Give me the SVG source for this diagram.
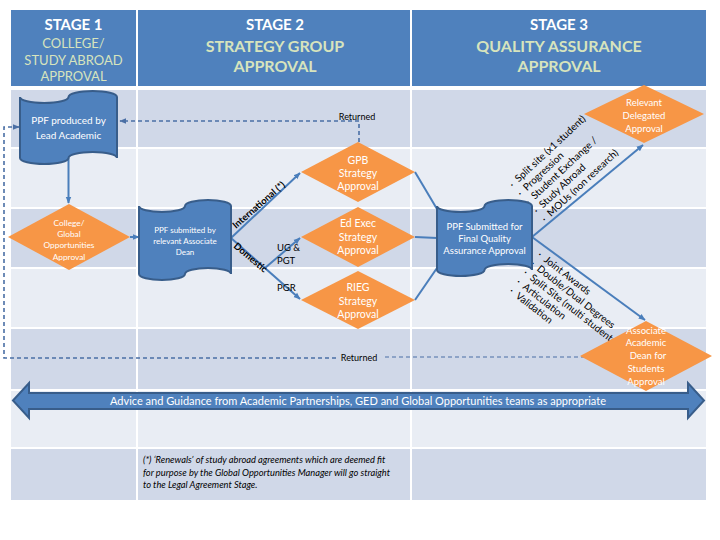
<svg xmlns="http://www.w3.org/2000/svg" width="720" height="540" viewBox="0 0 720 540">
<defs>
<style>
.hd{fill:#4F81BD}
.dk{fill:#D0D8E8}
.lt{fill:#E9EDF4}
.t{font-family:Lato,"Liberation Sans",sans-serif}
.st{font-weight:bold;fill:#FFFFFF;font-size:15px;text-anchor:middle}
.sub{fill:#D7E4BD;text-anchor:middle}
.doc{fill:#4F81BD;stroke:#385D8A;stroke-width:2}
.dia{fill:#F79646}
.wt{fill:#FFFFFF;text-anchor:middle}
.bk{fill:#000000}
.con{fill:none;stroke:#4A7EBB;stroke-width:2}
.ret{fill:none;stroke:#4A6FA5;stroke-width:1.6;stroke-dasharray:4 3}
.ret2{fill:none;stroke:#4A6FA5;stroke-width:1;stroke-dasharray:4 3}
.lbl{font-weight:bold;font-size:9.5px;fill:#000}
.bul{font-size:10px;fill:#000}
</style>
<marker id="ah" viewBox="0 0 10 10" refX="9" refY="5" markerWidth="7" markerHeight="7" markerUnits="userSpaceOnUse" orient="auto"><path d="M0,1 L10,5 L0,9 Z" fill="#4A7EBB"/></marker>
<marker id="ahd" viewBox="0 0 10 10" refX="9" refY="5" markerWidth="7" markerHeight="7" markerUnits="userSpaceOnUse" orient="auto"><path d="M0,1 L10,5 L0,9 Z" fill="#4A6FA5"/></marker>
</defs>
<rect x="0" y="0" width="720" height="540" fill="#FFFFFF"/>
<g id="table">
<rect class="hd" x="11" y="10" width="125" height="76"/>
<rect class="hd" x="138" y="10" width="272" height="76"/>
<rect class="hd" x="412" y="10" width="294" height="76"/>
<rect class="dk" x="11" y="90" width="125" height="57"/><rect class="dk" x="138" y="90" width="272" height="57"/><rect class="dk" x="412" y="90" width="294" height="57"/>
<rect class="lt" x="11" y="149" width="125" height="58"/><rect class="lt" x="138" y="149" width="272" height="58"/><rect class="lt" x="412" y="149" width="294" height="58"/>
<rect class="dk" x="11" y="209" width="125" height="58"/><rect class="dk" x="138" y="209" width="272" height="58"/><rect class="dk" x="412" y="209" width="294" height="58"/>
<rect class="lt" x="11" y="269" width="125" height="58"/><rect class="lt" x="138" y="269" width="272" height="58"/><rect class="lt" x="412" y="269" width="294" height="58"/>
<rect class="dk" x="11" y="329" width="125" height="60"/><rect class="dk" x="138" y="329" width="272" height="60"/><rect class="dk" x="412" y="329" width="294" height="60"/>
<rect class="lt" x="11" y="391" width="125" height="56"/><rect class="lt" x="138" y="391" width="272" height="56"/><rect class="lt" x="412" y="391" width="294" height="56"/>
<rect class="dk" x="11" y="449" width="125" height="51"/><rect class="dk" x="138" y="449" width="272" height="51"/><rect class="dk" x="412" y="449" width="294" height="51"/>
</g>
<g id="headers" class="t">
<text class="st" x="73.5" y="30">STAGE 1</text>
<text class="sub" x="73.5" y="48" font-size="13">COLLEGE/</text>
<text class="sub" x="73.5" y="65" font-size="13">STUDY ABROAD</text>
<text class="sub" x="73.5" y="81" font-size="13">APPROVAL</text>
<text class="st" x="275" y="30">STAGE 2</text>
<text class="sub" x="275" y="52" font-size="16" font-weight="bold">STRATEGY GROUP</text>
<text class="sub" x="275" y="72" font-size="16" font-weight="bold">APPROVAL</text>
<text class="st" x="559" y="30">STAGE 3</text>
<text class="sub" x="559" y="52" font-size="16" font-weight="bold">QUALITY ASSURANCE</text>
<text class="sub" x="559" y="72" font-size="16" font-weight="bold">APPROVAL</text>
</g>
<g id="advice">
<path d="M13,400.5 L29,383 L29,393 L688,393 L688,383 L704,400.5 L688,418 L688,409 L29,409 L29,418 Z" fill="#4F81BD" stroke="#385D8A" stroke-width="2"/>
<text class="t wt" x="358" y="404.5" font-size="11">Advice and Guidance from Academic Partnerships, GED and Global Opportunities teams as appropriate</text>
</g>
<g id="connectors">
<path class="con" d="M68.5,158 L68.5,203" marker-end="url(#ah)"/>
<path class="con" d="M130,237 L139,237" marker-end="url(#ah)"/>
<path class="con" d="M231,238 L300,173" marker-end="url(#ah)"/>
<path class="con" d="M231,238 L300,299" marker-end="url(#ah)"/>
<path class="con" d="M265,268 L300,238" marker-end="url(#ah)"/>
<path class="con" d="M415,172 L437,209"/>
<path class="con" d="M415,237 L437,238"/>
<path class="con" d="M415,300 L437,268"/>
<path class="con" d="M532,237 L643,145" marker-end="url(#ah)"/>
<path class="con" d="M532,237 L645,320" marker-end="url(#ah)"/>
<path class="ret" d="M359,142 L359,121 L120,121" marker-end="url(#ahd)"/>
<path class="ret2" d="M592,357 L382,357"/>
<path class="ret" d="M336,358 L4,358 L4,127 L19,127" marker-end="url(#ahd)"/>
</g>
<g id="labels" class="t">
<text class="bk" x="357" y="119.5" font-size="9" text-anchor="middle">Returned</text>
<text class="bk" x="359" y="361" font-size="9" text-anchor="middle">Returned</text>
<text class="lbl" transform="translate(236,229) rotate(-41)">International (*)</text>
<text class="lbl" transform="translate(233,247) rotate(40)">Domestic</text>
<text class="bk" x="277" y="251" font-size="9.5">UG &amp;</text>
<text class="bk" x="277" y="263.5" font-size="9.5">PGT</text>
<text class="bk" x="277" y="290.5" font-size="9.5">PGR</text>
<g class="bul" transform="translate(513,188) rotate(-43)">
<text x="0" y="0">·</text><text x="8" y="0">Split site (x1 student)</text>
<text x="0" y="11.8">·</text><text x="8" y="11.8">Progression</text>
<text x="0" y="23.6">·</text><text x="8" y="23.6">Student Exchange /</text>
<text x="0" y="35.4">·</text><text x="8" y="35.4">Study Abroad</text>
<text x="0" y="47.2">·</text><text x="8" y="47.2">MOUs (non research)</text>
</g>
<g class="bul" transform="translate(537,256) rotate(38)">
<text x="0" y="0">·</text><text x="8" y="0">Joint Awards</text>
<text x="0" y="11.5">·</text><text x="8" y="11.5">Double/Dual Degrees</text>
<text x="0" y="23">·</text><text x="8" y="23">Split Site (multi students)</text>
<text x="0" y="34.5">·</text><text x="8" y="34.5">Articulation</text>
<text x="0" y="46">·</text><text x="8" y="46">Validation</text>
</g>
</g>
<g id="ppf-lead" class="t">
<path class="doc" d="M20,97 A24.25,6 0 0 0 68.5,97 A24.25,6 0 0 1 117,97 L117,158 A24.25,6 0 0 0 68.5,158 A24.25,6 0 0 1 20,158 Z"/>
<text class="wt" x="68.5" y="123.5" font-size="10">PPF produced by</text>
<text class="wt" x="68.5" y="138.5" font-size="10">Lead Academic</text>
</g>
<g id="college-approval" class="t">
<path class="dia" d="M8,237 L69,204 L130,237 L69,270 Z"/>
<text class="wt" x="69" y="226" font-size="8.3">College/</text>
<text class="wt" x="69" y="237" font-size="8.3">Global</text>
<text class="wt" x="69" y="248" font-size="8.3">Opportunities</text>
<text class="wt" x="69" y="260" font-size="8.3">Approval</text>
</g>
<g id="ppf-dean" class="t">
<path class="doc" d="M139,206 A23,6 0 0 0 185,206 A23,6 0 0 1 231,206 L231,274 A23,6 0 0 0 185,274 A23,6 0 0 1 139,274 Z"/>
<text class="wt" x="185" y="233" font-size="8">PPF submitted by</text>
<text class="wt" x="185" y="244" font-size="8">relevant Associate</text>
<text class="wt" x="185" y="255" font-size="8">Dean</text>
</g>
<g id="gpb" class="t">
<path class="dia" d="M301,172 L358,142 L415,172 L358,202 Z"/>
<text class="wt" x="358" y="164" font-size="10.5">GPB</text>
<text class="wt" x="358" y="177" font-size="10.5">Strategy</text>
<text class="wt" x="358" y="190" font-size="10.5">Approval</text>
</g>
<g id="edexec" class="t">
<path class="dia" d="M301,237 L358,207 L415,237 L358,267 Z"/>
<text class="wt" x="358" y="227" font-size="10.5">Ed Exec</text>
<text class="wt" x="358" y="241" font-size="10.5">Strategy</text>
<text class="wt" x="358" y="254" font-size="10.5">Approval</text>
</g>
<g id="rieg" class="t">
<path class="dia" d="M301,300 L358,271 L415,300 L358,329 Z"/>
<text class="wt" x="358" y="291" font-size="10.5">RIEG</text>
<text class="wt" x="358" y="305" font-size="10.5">Strategy</text>
<text class="wt" x="358" y="318" font-size="10.5">Approval</text>
</g>
<g id="ppf-final" class="t">
<path class="doc" d="M437,206 A23.75,6 0 0 0 484.5,206 A23.75,6 0 0 1 532,206 L532,270 A23.75,6 0 0 0 484.5,270 A23.75,6 0 0 1 437,270 Z"/>
<text class="wt" x="484.5" y="229.5" font-size="9.5">PPF Submitted for</text>
<text class="wt" x="484.5" y="241.5" font-size="9.5">Final Quality</text>
<text class="wt" x="484.5" y="253.5" font-size="9.5">Assurance Approval</text>
</g>
<g id="delegated" class="t">
<path class="dia" d="M584,114 L644,85 L704,114 L644,143 Z"/>
<text class="wt" x="644" y="105.5" font-size="9.5">Relevant</text>
<text class="wt" x="644" y="118.5" font-size="9.5">Delegated</text>
<text class="wt" x="644" y="131.5" font-size="9.5">Approval</text>
</g>
<g id="associate" class="t">
<path class="dia" d="M580,356 L646,321 L712,356 L646,391 Z"/>
<text class="wt" x="646" y="333.5" font-size="9.5">Associate</text>
<text class="wt" x="646" y="346" font-size="9.5">Academic</text>
<text class="wt" x="648" y="359" font-size="9.5">Dean for</text>
<text class="wt" x="646" y="372" font-size="9.5">Students</text>
<text class="wt" x="646" y="385" font-size="9.5">Approval</text>
</g>
<g id="footnote" class="t" font-style="italic" font-size="9.3">
<text class="bk" x="143" y="463">(*) ‘Renewals’ of study abroad agreements which are deemed fit</text>
<text class="bk" x="143" y="476">for purpose by the Global Opportunities Manager will go straight</text>
<text class="bk" x="143" y="488">to the Legal Agreement Stage.</text>
</g>
</svg>
